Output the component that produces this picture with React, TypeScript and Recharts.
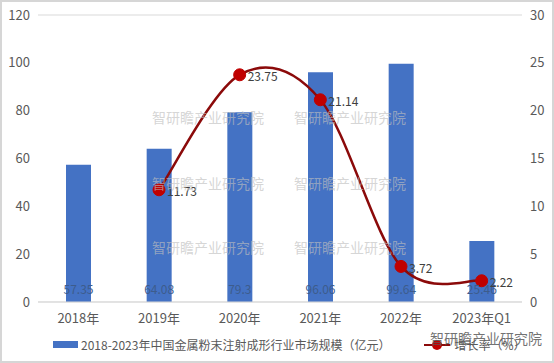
import React from 'react'
import {
    ComposedChart,
    Bar,
    Line,
    XAxis,
    YAxis,
    CartesianGrid,
    LabelList,
} from 'recharts'

const categories = ['2018年', '2019年', '2020年', '2021年', '2022年', '2023年Q1']
const marketSize = [57.35, 64.08, 79.3, 96.06, 99.64, 25.46]
const growthRate: (number | null)[] = [null, 11.73, 23.75, 21.14, 3.72, 2.22]
const leftTicks = [0, 20, 40, 60, 80, 100, 120]
const rightTicks = [0, 5, 10, 15, 20, 25, 30]

const FONT = '"Noto Sans CJK SC", "Noto Sans", sans-serif'
const watermark = '智研瞻产业研究院'
const wmRows = [117, 183, 247]
const wmCols = [205, 347]

const data = categories.map((name, i) => ({
    name,
    size: marketSize[i],
    rate: growthRate[i],
}))

// Excel-style smoothed line (bezier, control points at 1/6 of neighbour span)
const excelSmooth = (context: any) => {
    let pts: number[][] = []
    return {
        areaStart() {},
        areaEnd() {},
        lineStart() {
            pts = []
        },
        point(x: number, y: number) {
            pts.push([+x, +y])
        },
        lineEnd() {
            if (!pts.length) return
            context.moveTo(pts[0][0], pts[0][1])
            for (let i = 0; i < pts.length - 1; i++) {
                const p0 = pts[i - 1] || pts[i]
                const p1 = pts[i]
                const p2 = pts[i + 1]
                const p3 = pts[i + 2] || p2
                context.bezierCurveTo(
                    p1[0] + (p2[0] - p0[0]) / 6,
                    p1[1] + (p2[1] - p0[1]) / 6,
                    p2[0] - (p3[0] - p1[0]) / 6,
                    p2[1] - (p3[1] - p1[1]) / 6,
                    p2[0],
                    p2[1]
                )
            }
        },
    }
}

// bar value sits near the bottom of the bar, like Excel "inside base"
const BarBaseLabel = (props: any) => {
    const { x, y, width, height, value } = props
    return (
        <text
            x={x + width / 2}
            y={y + height - 14}
            textAnchor="middle"
            dominantBaseline="central"
            fill="#3d5c8c"
            fontSize={12}
            fontFamily={FONT}
        >
            {value}
        </text>
    )
}

const RateLabel = (props: any) => {
    const { x, y, value } = props
    if (value == null) return null
    return (
        <text x={x + 8} y={y + 1} dominantBaseline="central" fill="#404040" fontSize={12} fontFamily={FONT}>
            {value}
        </text>
    )
}

export default function App() {
    return (
        <div
            style={{
                position: 'fixed',
                left: 0,
                top: 0,
                width: 554,
                height: 363,
                background: '#fff',
                boxSizing: 'border-box',
                border: '2px solid #d6d6d6',
                fontFamily: FONT,
                overflow: 'hidden',
            }}
        >
            <div style={{ position: 'absolute', left: -2, top: -2 }}>
                <ComposedChart
                    width={554}
                    height={363}
                    data={data}
                    margin={{ top: 15, right: 0, left: 0, bottom: 36 }}
                >
                    <CartesianGrid vertical={false} stroke="#d9d9d9" />
                    <XAxis
                        dataKey="name"
                        axisLine={{ stroke: '#d9d9d9' }}
                        tickLine={false}
                        height={25}
                        tick={{ fill: '#595959', fontSize: 13, fontFamily: FONT }}
                        tickMargin={6}
                    />
                    <YAxis
                        yAxisId="left"
                        domain={[0, 120]}
                        ticks={leftTicks}
                        width={38}
                        axisLine={false}
                        tickLine={false}
                        tick={{ fill: '#595959', fontSize: 13, fontFamily: FONT }}
                    />
                    <YAxis
                        yAxisId="right"
                        orientation="right"
                        domain={[0, 30]}
                        ticks={rightTicks}
                        width={32}
                        axisLine={false}
                        tickLine={false}
                        tick={{ fill: '#595959', fontSize: 13, fontFamily: FONT }}
                    />
                    <Bar yAxisId="left" dataKey="size" fill="#4472c4" barSize={25} isAnimationActive={false}>
                        <LabelList dataKey="size" content={BarBaseLabel} />
                    </Bar>
                    <Line
                        yAxisId="right"
                        type={excelSmooth as any}
                        dataKey="rate"
                        stroke="#8b0a0a"
                        strokeWidth={2.5}
                        dot={{ r: 6, fill: '#c00000', stroke: '#c00000', strokeWidth: 1 }}
                        connectNulls={false}
                        isAnimationActive={false}
                    >
                        <LabelList dataKey="rate" content={RateLabel} />
                    </Line>
                </ComposedChart>
            </div>

            {wmRows.map((top) =>
                wmCols.map((cx) => (
                    <div
                        key={`${top}-${cx}`}
                        style={{
                            position: 'absolute',
                            left: cx - 55,
                            top: top - 12,
                            width: 110,
                            textAlign: 'center',
                            fontSize: 14,
                            color: 'rgba(190,190,190,0.65)',
                            whiteSpace: 'nowrap',
                        }}
                    >
                        {watermark}
                    </div>
                ))
            )}

            {/* legend */}
            <div style={{ position: 'absolute', left: 51, top: 334, display: 'flex', alignItems: 'center', fontSize: 12, color: '#595959', whiteSpace: 'nowrap' }}>
                <span style={{ display: 'inline-block', width: 25, height: 7, background: '#4472c4', marginRight: 3 }} />
                2018-2023年中国金属粉末注射成形行业市场规模（亿元）
                <span style={{ position: 'relative', display: 'inline-block', width: 26, height: 10, marginLeft: 34, marginRight: 4 }}>
                    <span style={{ position: 'absolute', left: 0, right: 0, top: 4, height: 2.5, background: '#8b0a0a' }} />
                    <span style={{ position: 'absolute', left: 8, top: 0, width: 10, height: 10, borderRadius: 5, background: '#c00000' }} />
                </span>
                增长率（%）
            </div>
            <div style={{ position: 'absolute', left: 428, top: 326, fontSize: 14, color: 'rgba(90,90,90,0.85)', whiteSpace: 'nowrap' }}>
                {watermark}
            </div>
        </div>
    )
}
